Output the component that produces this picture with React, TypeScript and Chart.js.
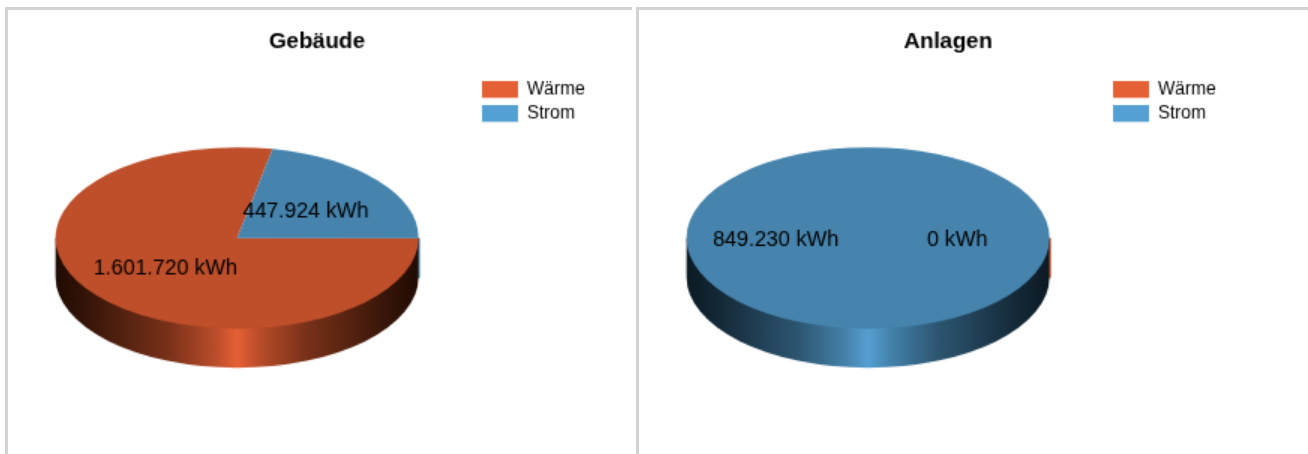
import React, { useEffect, useRef } from "react";
import { Chart, registerables } from "chart.js";

Chart.register(...registerables);

const categories = ["Wärme", "Strom"];
const gebaeudeValues = [1601720, 447924];
const anlagenValues = [0, 849230];
const legendColors = ["#E66035", "#55A0D2"];
const faceColors = ["#BE4F2A", "#4684AE"];
const edgeColors = ["#200B03", "#0C1A23"];
const FONT = '"Liberation Sans", Arial, sans-serif';
const TILT = 0.5;
const DEPTH = 39;

const fmt = (v: number) => String(v).replace(/\B(?=(\d{3})+$)/g, ".") + " kWh";

function mix(a: string, b: string, t: number) {
  const p = (s: string, k: number) => parseInt(s.slice(1 + k * 2, 3 + k * 2), 16);
  const c = [0, 1, 2].map((k) => Math.round(p(a, k) + (p(b, k) - p(a, k)) * t));
  return `rgb(${c[0]},${c[1]},${c[2]})`;
}

const pie3d = {
  id: "pie3d",
  afterLayout(chart: any) {
    // Fixed plot box and legend place, as in the reference panel.
    const left = 56.5, top = 56.5, size = 363;
    chart.chartArea = { left, top, right: left + size, bottom: top + size, width: size, height: size };
    const lg = chart.legend;
    const w = lg.width, h = lg.height;
    lg.left = 477; lg.right = 477 + w; lg.top = 74.5; lg.bottom = 74.5 + h;
  },
  beforeDatasetsDraw(chart: any) {
    const ctx = chart.ctx;
    const arcs = chart.getDatasetMeta(0).data;
    const values = chart.data.datasets[0].data;
    const { x: cx, y: cy, outerRadius: r } = arcs[values[0] > 0 ? 0 : 1];
    const ry = r * TILT;

    // thin edge sliver of the smallest slice at the 0 degree seam
    const small = values[0] < values[1] ? 0 : 1;
    ctx.fillStyle = legendColors[small];
    ctx.fillRect(cx + r - 1, cy, 2.6, DEPTH + 1);

    arcs.forEach((arc: any, i: number) => {
      const a0 = Math.max(arc.startAngle, 0);
      const a1 = Math.min(arc.endAngle, Math.PI);
      if (a1 <= a0 || values[i] === 0) return;
      const g = ctx.createLinearGradient(cx - r, 0, cx + r, 0);
      const stops: [number, number][] = [
        [0, 0], [0.08, 0.1], [0.21, 0.3], [0.31, 0.45], [0.44, 0.78], [0.5, 1],
        [0.56, 0.78], [0.69, 0.45], [0.79, 0.3], [0.92, 0.1], [1, 0],
      ];
      stops.forEach(([pos, t]) => g.addColorStop(pos, mix(edgeColors[i], legendColors[i], t)));
      ctx.beginPath();
      ctx.moveTo(cx + r * Math.cos(a0), cy + ry * Math.sin(a0));
      ctx.lineTo(cx + r * Math.cos(a0), cy + ry * Math.sin(a0) + DEPTH);
      ctx.ellipse(cx, cy + DEPTH, r, ry, 0, a0, a1, false);
      ctx.lineTo(cx + r * Math.cos(a1), cy + ry * Math.sin(a1));
      ctx.closePath();
      ctx.fillStyle = g;
      ctx.fill();
    });

    ctx.save();
    ctx.translate(cx, cy);
    ctx.scale(1, TILT);
    ctx.translate(-cx, -cy);
  },
  afterDatasetsDraw(chart: any) {
    const ctx = chart.ctx;
    ctx.restore();
    const arcs = chart.getDatasetMeta(0).data;
    const values = chart.data.datasets[0].data;
    ctx.save();
    ctx.fillStyle = "#000";
    ctx.font = `21.4px ${FONT}`;
    ctx.textAlign = "center";
    ctx.textBaseline = "middle";
    arcs.forEach((arc: any, i: number) => {
      const mid = (arc.startAngle + arc.endAngle) / 2;
      const x = arc.x + 0.5 * arc.outerRadius * Math.cos(mid) - 1.5;
      const y = arc.y + 0.5 * arc.outerRadius * TILT * Math.sin(mid) + 2;
      ctx.fillText(fmt(values[i]), x, y);
    });
    ctx.restore();
  },
};

function Panel({ title, values, left }: { title: string; values: number[]; left: number }) {
  const ref = useRef<HTMLCanvasElement>(null);
  useEffect(() => {
    const chart = new Chart(ref.current as HTMLCanvasElement, {
      type: "pie",
      data: {
        labels: categories,
        datasets: [{ data: values, backgroundColor: faceColors, borderWidth: 0 }],
      },
      plugins: [pie3d],
      options: {
        animation: false,
        responsive: false,
        devicePixelRatio: 2 / 3,
        rotation: 90,
        layout: { padding: 0 },
        plugins: {
          tooltip: { enabled: false },
          title: {
            display: true,
            text: title,
            color: "#000",
            font: { family: FONT, size: 22.5, weight: "bold" },
            padding: { top: 29, bottom: 0 },
          },
          legend: {
            position: "right",
            align: "start",
            labels: {
              boxWidth: 36,
              boxHeight: 17,
              padding: 6,
              color: "#000",
              font: { family: FONT, size: 18 },
              generateLabels: () =>
                categories.map((text, i) => ({
                  text,
                  fillStyle: legendColors[i],
                  strokeStyle: legendColors[i],
                  fontColor: "#000",
                  lineWidth: 0,
                  hidden: false,
                  index: i,
                })),
            },
          },
        },
      } as any,
    });
    return () => chart.destroy();
  }, []);
  return (
    <canvas
      ref={ref}
      width={636}
      height={456}
      style={{ position: "absolute", left, top: 0 }}
    />
  );
}

const line = "#D3D3D3";

export default function App() {
  return (
    <div style={{ position: "fixed", left: 0, top: 0, width: 1308, height: 454, overflow: "hidden", background: "#fff" }}>
      <div style={{ position: "absolute", left: 5, top: 7, width: 3, height: 447, background: line }} />
      <div style={{ position: "absolute", left: 5, top: 7, width: 627, height: 3, background: line }} />
      <div style={{ position: "absolute", left: 636, top: 7, width: 2.6, height: 447, background: line }} />
      <div style={{ position: "absolute", left: 636, top: 7, width: 672, height: 3, background: line }} />
      <Panel title="Gebäude" values={gebaeudeValues} left={-1} />
      <Panel title="Anlagen" values={anlagenValues} left={630} />
    </div>
  );
}
